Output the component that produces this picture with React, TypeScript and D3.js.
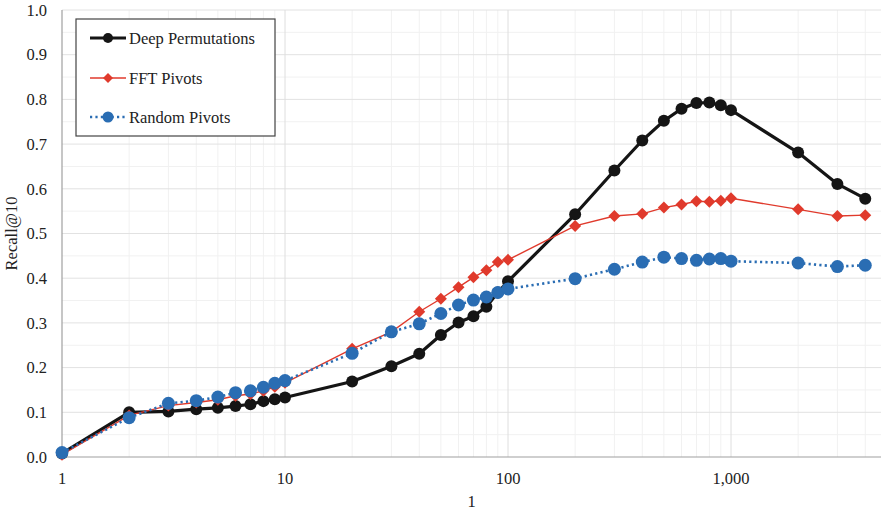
import React from 'react';
import * as d3 from 'd3';

const xs = [1, 2, 3, 4, 5, 6, 7, 8, 9, 10, 20, 30, 40, 50, 60, 70, 80, 90, 100, 200, 300, 400, 500, 600, 700, 800, 900, 1000, 2000, 3000, 4000];

const deepPerm = [0.008, 0.1, 0.102, 0.107, 0.11, 0.114, 0.118, 0.125, 0.129, 0.133, 0.169, 0.203, 0.231, 0.273, 0.301, 0.315, 0.336, 0.368, 0.393, 0.543, 0.641, 0.708, 0.752, 0.779, 0.792, 0.793, 0.787, 0.776, 0.681, 0.611, 0.578];
const fftPivots = [0.005, 0.093, 0.115, 0.122, 0.128, 0.137, 0.141, 0.148, 0.157, 0.166, 0.242, 0.28, 0.325, 0.354, 0.38, 0.402, 0.418, 0.436, 0.441, 0.517, 0.539, 0.544, 0.558, 0.565, 0.572, 0.571, 0.573, 0.579, 0.554, 0.539, 0.541];
const randomPivots = [0.01, 0.088, 0.12, 0.126, 0.134, 0.144, 0.148, 0.156, 0.165, 0.171, 0.232, 0.28, 0.298, 0.321, 0.34, 0.351, 0.358, 0.368, 0.376, 0.399, 0.42, 0.436, 0.447, 0.444, 0.44, 0.443, 0.444, 0.438, 0.434, 0.426, 0.429];

const yTicks = [0, 0.1, 0.2, 0.3, 0.4, 0.5, 0.6, 0.7, 0.8, 0.9, 1.0];
const xTicks = [1, 10, 100, 1000];
const seriesNames = ['Deep Permutations', 'FFT Pivots', 'Random Pivots'];

const W = 883;
const H = 510;
const left = 62;
const right = 881;
const top = 10;
const bottom = 457;
const font = '"Liberation Serif", "Times New Roman", serif';

const BLACK = '#151515';
const RED = '#e03a2c';
const BLUE = '#2a6db3';

export default function App() {
  const x = d3.scaleLog().domain([1, Math.pow(10, (right - left) / 223)]).range([left, right]);
  const y = d3.scaleLinear().domain([0, 1]).range([bottom, top]);

  const minorY = d3.range(0.05, 1, 0.1);
  const minorX: number[] = [];
  [1, 10, 100, 1000].forEach((d) => {
    for (let k = 2; k <= 9; k++) {
      const v = d * k;
      if (x(v) <= right) minorX.push(v);
    }
  });

  const line = d3
    .line<number>()
    .x((_, i) => x(xs[i]))
    .y((d) => y(d));

  const fmt = d3.format(',');
  const diamond = (cx: number, cy: number, r: number) =>
    `M${cx},${cy - r}L${cx + r},${cy}L${cx},${cy + r}L${cx - r},${cy}Z`;

  const legendRows = [38, 78, 117];

  return (
    <svg width={W} height={H} style={{ position: 'absolute', left: 0, top: 0, background: '#fff' }}>
      {/* grid */}
      {minorY.map((v) => (
        <line key={'my' + v} x1={left} x2={right} y1={y(v)} y2={y(v)} stroke="#f1f1f1" strokeWidth={1} />
      ))}
      {minorX.map((v) => (
        <line key={'mx' + v} x1={x(v)} x2={x(v)} y1={top} y2={bottom} stroke="#f1f1f1" strokeWidth={1} />
      ))}
      {yTicks.slice(1).map((v) => (
        <line key={'gy' + v} x1={left} x2={right} y1={y(v)} y2={y(v)} stroke="#e2e2e2" strokeWidth={1} />
      ))}
      {xTicks.slice(1).map((v) => (
        <line key={'gx' + v} x1={x(v)} x2={x(v)} y1={top} y2={bottom} stroke="#dedede" strokeWidth={1} />
      ))}

      {/* axes */}
      <line x1={left} x2={left} y1={top} y2={bottom} stroke="#a0a0a0" strokeWidth={1.2} />
      <line x1={left} x2={right} y1={bottom} y2={bottom} stroke="#a0a0a0" strokeWidth={1.2} />

      {yTicks.map((v) => (
        <text key={'yt' + v} x={47} y={y(v)} dy="0.35em" textAnchor="end" fontFamily={font} fontSize={16.5} fill="#222">
          {v.toFixed(1)}
        </text>
      ))}
      {xTicks.map((v) => (
        <text key={'xt' + v} x={x(v)} y={484} textAnchor="middle" fontFamily={font} fontSize={16.5} fill="#222">
          {fmt(v)}
        </text>
      ))}
      <text x={(left + right) / 2} y={507} textAnchor="middle" fontFamily={font} fontSize={16.5} fill="#222">
        1
      </text>
      <text
        transform={`translate(17,${(top + bottom) / 2}) rotate(-90)`}
        textAnchor="middle"
        fontFamily={font}
        fontSize={16.5}
        fill="#222"
      >
        Recall@10
      </text>

      {/* series */}
      <path d={line(deepPerm) || ''} fill="none" stroke={BLACK} strokeWidth={3.2} strokeLinejoin="round" />
      {deepPerm.map((d, i) => (
        <circle key={'b' + i} cx={x(xs[i])} cy={y(d)} r={6} fill={BLACK} />
      ))}
      <path d={line(fftPivots) || ''} fill="none" stroke={RED} strokeWidth={1.4} />
      {fftPivots.map((d, i) => (
        <path key={'r' + i} d={diamond(x(xs[i]), y(d), 6)} fill={RED} />
      ))}
      <path d={line(randomPivots) || ''} fill="none" stroke={BLUE} strokeWidth={2.6} strokeDasharray="2.2,3.2" />
      {randomPivots.map((d, i) => (
        <circle key={'u' + i} cx={x(xs[i])} cy={y(d)} r={6.5} fill={BLUE} />
      ))}

      {/* legend */}
      <rect x={76} y={19} width={199} height={117} fill="#fff" stroke="#444" strokeWidth={1.2} />
      <line x1={90} x2={126} y1={legendRows[0]} y2={legendRows[0]} stroke={BLACK} strokeWidth={3.2} />
      <circle cx={108} cy={legendRows[0]} r={5} fill={BLACK} />
      <line x1={90} x2={126} y1={legendRows[1]} y2={legendRows[1]} stroke={RED} strokeWidth={1.4} />
      <path d={diamond(108, legendRows[1], 5)} fill={RED} />
      <line x1={90} x2={126} y1={legendRows[2]} y2={legendRows[2]} stroke={BLUE} strokeWidth={2.6} strokeDasharray="2.2,3.2" />
      <circle cx={108} cy={legendRows[2]} r={5.5} fill={BLUE} />
      {seriesNames.map((n, i) => (
        <text key={n} x={129} y={legendRows[i]} dy="0.35em" fontFamily={font} fontSize={16.5} fill="#222">
          {n}
        </text>
      ))}
    </svg>
  );
}
